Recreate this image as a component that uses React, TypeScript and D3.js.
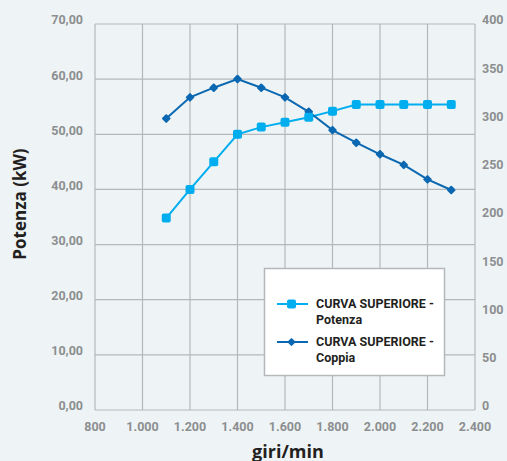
import React, { useEffect, useRef } from 'react';
import * as d3 from 'd3';

const rpm = [1100, 1200, 1300, 1400, 1500, 1600, 1700, 1800, 1900, 2000, 2100, 2200, 2300];
const potenza = [34.8, 40.0, 45.0, 50.0, 51.3, 52.2, 53.1, 54.2, 55.4, 55.4, 55.4, 55.4, 55.4];
const coppia = [302, 324, 334, 343, 334, 324, 309, 290, 277, 265, 254, 239, 228];
const xTicks = [800, 1000, 1200, 1400, 1600, 1800, 2000, 2200, 2400];
const leftTicks = [0, 10, 20, 30, 40, 50, 60, 70];
const rightTicks = [0, 50, 100, 150, 200, 250, 300, 350, 400];
const legendLabels = [['CURVA SUPERIORE -', 'Potenza'], ['CURVA SUPERIORE -', 'Coppia']];

const W = 507;
const H = 461;
const LIGHT = '#00aeef';
const DARK = '#0a67b1';
const GRID = '#b4b8ba';
const TICK = '#8c8e90';
const FONT = 'Roboto, sans-serif';
const TITLE_FONT = '"Open Sans", sans-serif';

const fmtX = (v: number) => (v >= 1000 ? d3.format(',')(v).replace(',', '.') : String(v));
const fmtL = (v: number) => v.toFixed(2).replace('.', ',');

const App: React.FC = () => {
  const svgRef = useRef<SVGSVGElement>(null);

  useEffect(() => {
    if (!svgRef.current) return;
    const svg = d3.select(svgRef.current);
    svg.selectAll('*').remove();

    const margin = { top: 24, right: 32, bottom: 51, left: 95 };
    const x = d3.scaleLinear().domain([800, 2400]).range([margin.left, W - margin.right]);
    const yL = d3.scaleLinear().domain([0, 70]).range([H - margin.bottom, margin.top]);
    const yR = d3.scaleLinear().domain([0, 400]).range([H - margin.bottom, margin.top]);

    svg.append('rect').attr('width', W).attr('height', H).attr('fill', '#eef4f5');

    // grid
    const grid = svg.append('g').attr('stroke', GRID).attr('stroke-width', 1.2);
    grid.selectAll('.h').data(leftTicks).enter().append('line')
      .attr('x1', x(800)).attr('x2', x(2400))
      .attr('y1', d => yL(d)).attr('y2', d => yL(d));
    grid.selectAll('.v').data(xTicks).enter().append('line')
      .attr('x1', d => x(d)).attr('x2', d => x(d))
      .attr('y1', yL(0)).attr('y2', yL(70));

    // tick labels
    const tickStyle = (s: any) => s
      .attr('font-family', FONT).attr('font-weight', 700).attr('font-size', 12.5)
      .attr('fill', TICK);
    svg.append('g').selectAll('text').data(leftTicks).enter().append('text')
      .attr('x', 83).attr('y', d => yL(d) - 4).attr('dy', '0.35em')
      .attr('text-anchor', 'end').call(tickStyle).text(d => fmtL(d));
    svg.append('g').selectAll('text').data(rightTicks).enter().append('text')
      .attr('x', 482).attr('y', d => yR(d) - 4).attr('dy', '0.35em')
      .attr('text-anchor', 'start').call(tickStyle).text(d => String(d));
    svg.append('g').selectAll('text').data(xTicks).enter().append('text')
      .attr('x', d => x(d)).attr('y', 427).attr('dy', '0.35em')
      .attr('text-anchor', 'middle').call(tickStyle).text(d => fmtX(d));

    // axis titles
    svg.append('text').attr('x', 288).attr('y', 452).attr('dy', '0.35em')
      .attr('text-anchor', 'middle').attr('font-family', TITLE_FONT).attr('font-weight', 700)
      .attr('font-size', 18).attr('fill', '#231f20').text('giri/min');
    svg.append('text').attr('transform', 'translate(20,204) rotate(-90)').attr('dy', '0.35em')
      .attr('text-anchor', 'middle').attr('font-family', TITLE_FONT).attr('font-weight', 700)
      .attr('font-size', 17).attr('fill', '#231f20').text('Potenza (kW)');

    // series
    const lineL = d3.line<number>().x((_, i) => x(rpm[i])).y(d => yL(d));
    const lineR = d3.line<number>().x((_, i) => x(rpm[i])).y(d => yR(d));

    svg.append('path').datum(potenza).attr('d', lineL).attr('fill', 'none')
      .attr('stroke', LIGHT).attr('stroke-width', 2);
    svg.append('path').datum(coppia).attr('d', lineR).attr('fill', 'none')
      .attr('stroke', DARK).attr('stroke-width', 2);

    svg.append('g').selectAll('rect').data(coppia).enter().append('rect')
      .attr('x', -3.3).attr('y', -3.3).attr('width', 6.6).attr('height', 6.6).attr('rx', 1)
      .attr('transform', (d, i) => `translate(${x(rpm[i])},${yR(d)}) rotate(45)`)
      .attr('fill', DARK);
    svg.append('g').selectAll('rect').data(potenza).enter().append('rect')
      .attr('x', (_, i) => x(rpm[i]) - 4.5).attr('y', d => yL(d) - 4.5)
      .attr('width', 9).attr('height', 9).attr('rx', 2)
      .attr('fill', LIGHT);

    // legend
    const lg = svg.append('g');
    lg.append('rect').attr('x', 264.5).attr('y', 268.5).attr('width', 180).attr('height', 107)
      .attr('fill', '#ffffff').attr('stroke', GRID).attr('stroke-width', 1.5);
    const items = lg.selectAll('.item').data(legendLabels).enter().append('g')
      .attr('transform', (_, i) => `translate(0,${304 + i * 38})`);
    items.append('line').attr('x1', 277).attr('x2', 308).attr('y1', 0).attr('y2', 0)
      .attr('stroke', (_, i) => (i === 0 ? LIGHT : DARK)).attr('stroke-width', 2);
    items.each(function (_, i) {
      const g = d3.select(this);
      if (i === 0) {
        g.append('rect').attr('x', 287).attr('y', -4.5).attr('width', 9).attr('height', 9)
          .attr('rx', 2).attr('fill', LIGHT);
      } else {
        g.append('rect').attr('x', -3).attr('y', -3).attr('width', 6).attr('height', 6)
          .attr('rx', 1).attr('transform', 'translate(291.5,0) rotate(45)').attr('fill', DARK);
      }
    });
    items.append('text').attr('x', 316).attr('y', 0).attr('dy', '0.35em')
      .attr('font-family', FONT).attr('font-weight', 700).attr('font-size', 12.5)
      .attr('fill', '#231f20').text(d => d[0]);
    items.append('text').attr('x', 316).attr('y', 16).attr('dy', '0.35em')
      .attr('font-family', FONT).attr('font-weight', 700).attr('font-size', 12.5)
      .attr('fill', '#231f20').text(d => d[1]);
  }, []);

  return (
    <svg ref={svgRef} width={W} height={H}
      style={{ position: 'absolute', left: 0, top: 0, display: 'block' }} />
  );
};

export default App;
